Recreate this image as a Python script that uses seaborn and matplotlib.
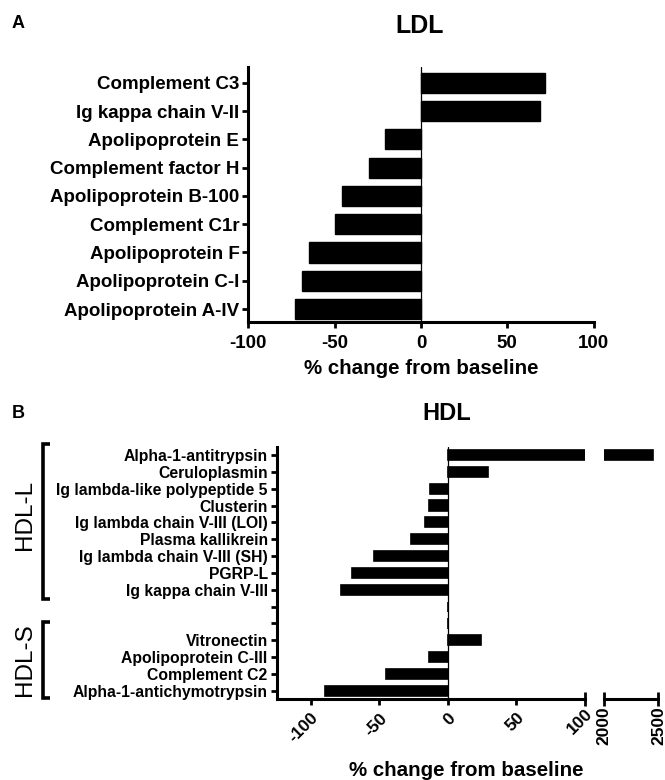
import matplotlib
matplotlib.use("Agg")
import matplotlib.pyplot as plt
import seaborn as sns
import pandas as pd
from matplotlib.transforms import blended_transform_factory

# ---------------- data ----------------
ldl_proteins = ["Complement C3", "Ig kappa chain V-II", "Apolipoprotein E",
                "Complement factor H", "Apolipoprotein B-100", "Complement C1r",
                "Apolipoprotein F", "Apolipoprotein C-I", "Apolipoprotein A-IV"]
ldl_change = [72, 69, -21, -30, -46, -50, -65, -69, -73]

hdl_proteins = ["Alpha-1-antitrypsin", "Ceruloplasmin", "Ig lambda-like polypeptide 5",
                "Clusterin", "Ig lambda chain V-III (LOI)", "Plasma kallikrein",
                "Ig lambda chain V-III (SH)", "PGRP-L", "Ig kappa chain V-III",
                "", "", "Vitronectin", "Apolipoprotein C-III", "Complement C2",
                "Alpha-1-antichymotrypsin"]
hdl_change = [2450, 29, -13, -14, -17, -27, -54, -70, -78, 0, 0, 24, -14, -45, -90]

ldl_ticks = [-100, -50, 0, 50, 100]
hdl_ticks_low = [-100, -50, 0, 50]
hdl_ticks_end = [100]
hdl_ticks_high = [2000, 2500]

# ---------------- style ----------------
sns.set_theme(style="ticks")
plt.rcParams["font.family"] = ["Liberation Sans", "DejaVu Sans"]
plt.rcParams["font.weight"] = "bold"
plt.rcParams["text.color"] = "black"
plt.rcParams["axes.labelcolor"] = "black"
plt.rcParams["xtick.color"] = "black"
plt.rcParams["ytick.color"] = "black"
plt.rcParams["axes.edgecolor"] = "black"
plt.rcParams["axes.linewidth"] = 2.2

W, H = 665, 780
fig = plt.figure(figsize=(W / 100, H / 100), dpi=100)


def fx(px):
    return px / W


def fy(py):
    return 1 - py / H


def style_axis(ax):
    for s in ["top", "right"]:
        ax.spines[s].set_visible(False)
    for s in ["left", "bottom"]:
        ax.spines[s].set_linewidth(2.2)
        ax.spines[s].set_color("black")


# ---------------- LDL panel ----------------
df_ldl = pd.DataFrame({"protein": ldl_proteins, "change": ldl_change})
ax_t = fig.add_axes([fx(248.4), fy(322), (593.5 - 248.4) / W, (322 - 67.4) / H])
sns.barplot(data=df_ldl, x="change", y="protein", orient="h", color="black",
            saturation=1, width=0.71, edgecolor="black", linewidth=1, ax=ax_t)
ax_t.axvline(0, color="black", lw=0.9, zorder=3)
ax_t.set_xlim(-100, 100)
ax_t.set_ylim(len(ldl_proteins) - 0.54, -0.55)
ax_t.set_xticks(ldl_ticks)
ax_t.set_xticklabels([str(t) for t in ldl_ticks])
ax_t.set_xlabel("")
ax_t.set_ylabel("")
style_axis(ax_t)
ax_t.tick_params(axis="both", width=2, length=4.5, labelsize=13.5, pad=2,
                 color="black", labelcolor="black")
ax_t.tick_params(axis="x", pad=5)
for lab in ax_t.get_xticklabels() + ax_t.get_yticklabels():
    lab.set_fontweight("bold")

fig.text(fx(421), fy(368), "% change from baseline", ha="center", va="center",
         fontsize=14.8, fontweight="bold")
fig.text(fx(420), fy(26), "LDL", ha="center", va="center", fontsize=18, fontweight="bold")
fig.text(fx(12), fy(23), "A", ha="left", va="center", fontsize=13, fontweight="bold")

# ---------------- HDL panel (broken x axis) ----------------
keys = [p if p else f"gap{i}" for i, p in enumerate(hdl_proteins)]
df_hdl = pd.DataFrame({"protein": keys, "change": hdl_change})
n = len(keys)
bottom_px, top_px = 698.5, 446.7
ax1 = fig.add_axes([fx(276.7), fy(bottom_px), (584.7 - 276.7) / W, (bottom_px - top_px) / H])
ax2 = fig.add_axes([fx(604.1), fy(bottom_px), (658.4 - 604.1) / W, (bottom_px - top_px) / H])
for ax in (ax1, ax2):
    sns.barplot(data=df_hdl, x="change", y="protein", orient="h", color="black",
                saturation=1, width=0.6, edgecolor="black", linewidth=1.2, ax=ax)
    ax.set_ylim(n - 1 + 0.45, -0.49)
    ax.set_xlabel("")
    ax.set_ylabel("")
    style_axis(ax)

ax1.axvline(0, color="black", lw=0.9, zorder=3)
ax1.set_xlim(-125, 100)
ax1.set_xticks(hdl_ticks_low)
ax1.set_xticklabels([str(t) for t in hdl_ticks_low], rotation=45, ha="right",
                    va="top", rotation_mode="anchor")
ax1.set_xticks(hdl_ticks_end, labels=[str(t) for t in hdl_ticks_end], minor=True)
for lab in ax1.get_xticklabels(minor=True):
    lab.set_rotation(45)
    lab.set_ha("right")
    lab.set_va("top")
    lab.set_rotation_mode("anchor")
ax1.set_yticks(range(n))
ax1.set_yticklabels(hdl_proteins)
ax1.tick_params(axis="both", which="major", width=2, length=4.5, pad=2,
                color="black", labelcolor="black")
ax1.tick_params(axis="y", labelsize=11.3)
ax1.tick_params(axis="x", which="major", labelsize=12.5, pad=4)
ax1.tick_params(axis="x", which="minor", direction="inout", length=9.4, width=2,
                labelsize=12.5, pad=1, color="black")

ax2.set_xlim(2000, 2500)
ax2.spines["left"].set_visible(False)
ax2.set_yticks([])
ax2.set_xticks(hdl_ticks_high)
ax2.set_xticklabels([str(t) for t in hdl_ticks_high], rotation=90)
ax2.tick_params(axis="x", direction="inout", length=9.4, width=2, labelsize=12.5,
                pad=1, color="black", labelcolor="black")
for lab in ax1.get_xticklabels() + ax1.get_yticklabels() + ax2.get_xticklabels() \
        + ax1.get_xticklabels(minor=True):
    lab.set_fontweight("bold")

# group brackets
trans = blended_transform_factory(fig.transFigure, ax1.transData)
for (y0, y1) in [(-0.65, 8.55), (9.9, 14.4)]:
    ax1.plot([fx(50), fx(43), fx(43), fx(50)], [y0, y0, y1, y1], transform=trans,
             clip_on=False, color="black", lw=2.6, solid_joinstyle="miter",
             solid_capstyle="butt")
fig.text(fx(25), fy(515), "HDL-L", rotation=90, ha="center", va="center",
         fontsize=17.5, fontweight="normal")
fig.text(fx(25), fy(660), "HDL-S", rotation=90, ha="center", va="center",
         fontsize=17.5, fontweight="normal")

fig.text(fx(466), fy(771), "% change from baseline", ha="center", va="center",
         fontsize=14.8, fontweight="bold")
fig.text(fx(447), fy(414), "HDL", ha="center", va="center", fontsize=17, fontweight="bold")
fig.text(fx(12), fy(414), "B", ha="left", va="center", fontsize=13, fontweight="bold")

fig.savefig("out.png", dpi=100)
